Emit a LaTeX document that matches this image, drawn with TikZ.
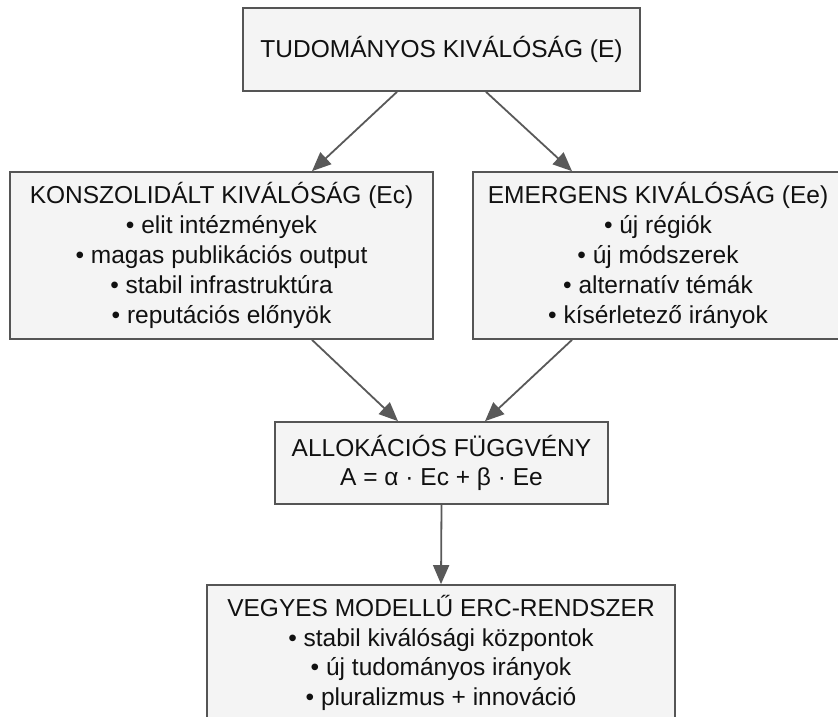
\documentclass[tikz,border=0pt]{standalone}
\usepackage{fontspec}
\setmainfont{Liberation Sans}
\usetikzlibrary{arrows.meta}
\definecolor{boxfill}{HTML}{F4F4F4}
\definecolor{boxline}{HTML}{555555}
\definecolor{arrgray}{HTML}{595959}
\definecolor{txtdk}{HTML}{111111}
\newcommand{\diagfont}{\fontsize{24.5}{29.8}\selectfont}
\tikzset{
  every picture/.append style={font=\diagfont},
  box/.style  = {draw=boxline, line width=1.7pt, fill=boxfill, text=txtdk,
                 align=center, inner sep=0pt},
  arr/.style  = {-{Triangle[length=19pt,width=16pt]}, draw=arrgray,
                 line width=1.8pt},
}

\begin{document}
\begin{tikzpicture}[x=1pt,y=-1pt]
  \useasboundingbox (0,0) rectangle (838,717);
  % boxes
  \node[box, minimum width=397pt, minimum height=83pt] (E) at (441.5,49.5)
    {TUDOMÁNYOS KIVÁLÓSÁG (E)};
  \node[box, minimum width=423pt, minimum height=167pt] (Ec) at (221.5,255.5)
    {KONSZOLIDÁLT KIVÁLÓSÁG (Ec)\\ • elit intézmények\\
     • magas publikációs output\\ • stabil infrastruktúra\\
     • reputációs előnyök};
  \node[box, minimum width=370pt, minimum height=167pt] (Ee) at (658,255.5)
    {EMERGENS KIVÁLÓSÁG (Ee)\\ • új régiók\\ • új módszerek\\
     • alternatív témák\\ • kísérletező irányok};
  \node[box, minimum width=333pt, minimum height=82pt] (A) at (441.5,463)
    {ALLOKÁCIÓS FÜGGVÉNY\\ A = α · Ec + β · Ee};
  \node[box, minimum width=468pt, minimum height=136pt] (V) at (441,653)
    {VEGYES MODELLŰ ERC-RENDSZER\\ • stabil kiválósági központok\\
     • új tudományos irányok\\ • pluralizmus + innováció};
  % arrows
  \draw[arr] ([xshift=-44.5pt]E.south) -- ([xshift=90.5pt]Ec.north);
  \draw[arr] ([xshift=44.5pt]E.south) -- ([xshift=-86pt]Ee.north);
  \draw[arr] ([xshift=90.5pt]Ec.south) -- ([xshift=-43.5pt]A.north);
  \draw[arr] ([xshift=-86pt]Ee.south) -- ([xshift=43.5pt]A.north);
  \draw[arr] (A.south) -- (V.north);
\end{tikzpicture}
\end{document}
